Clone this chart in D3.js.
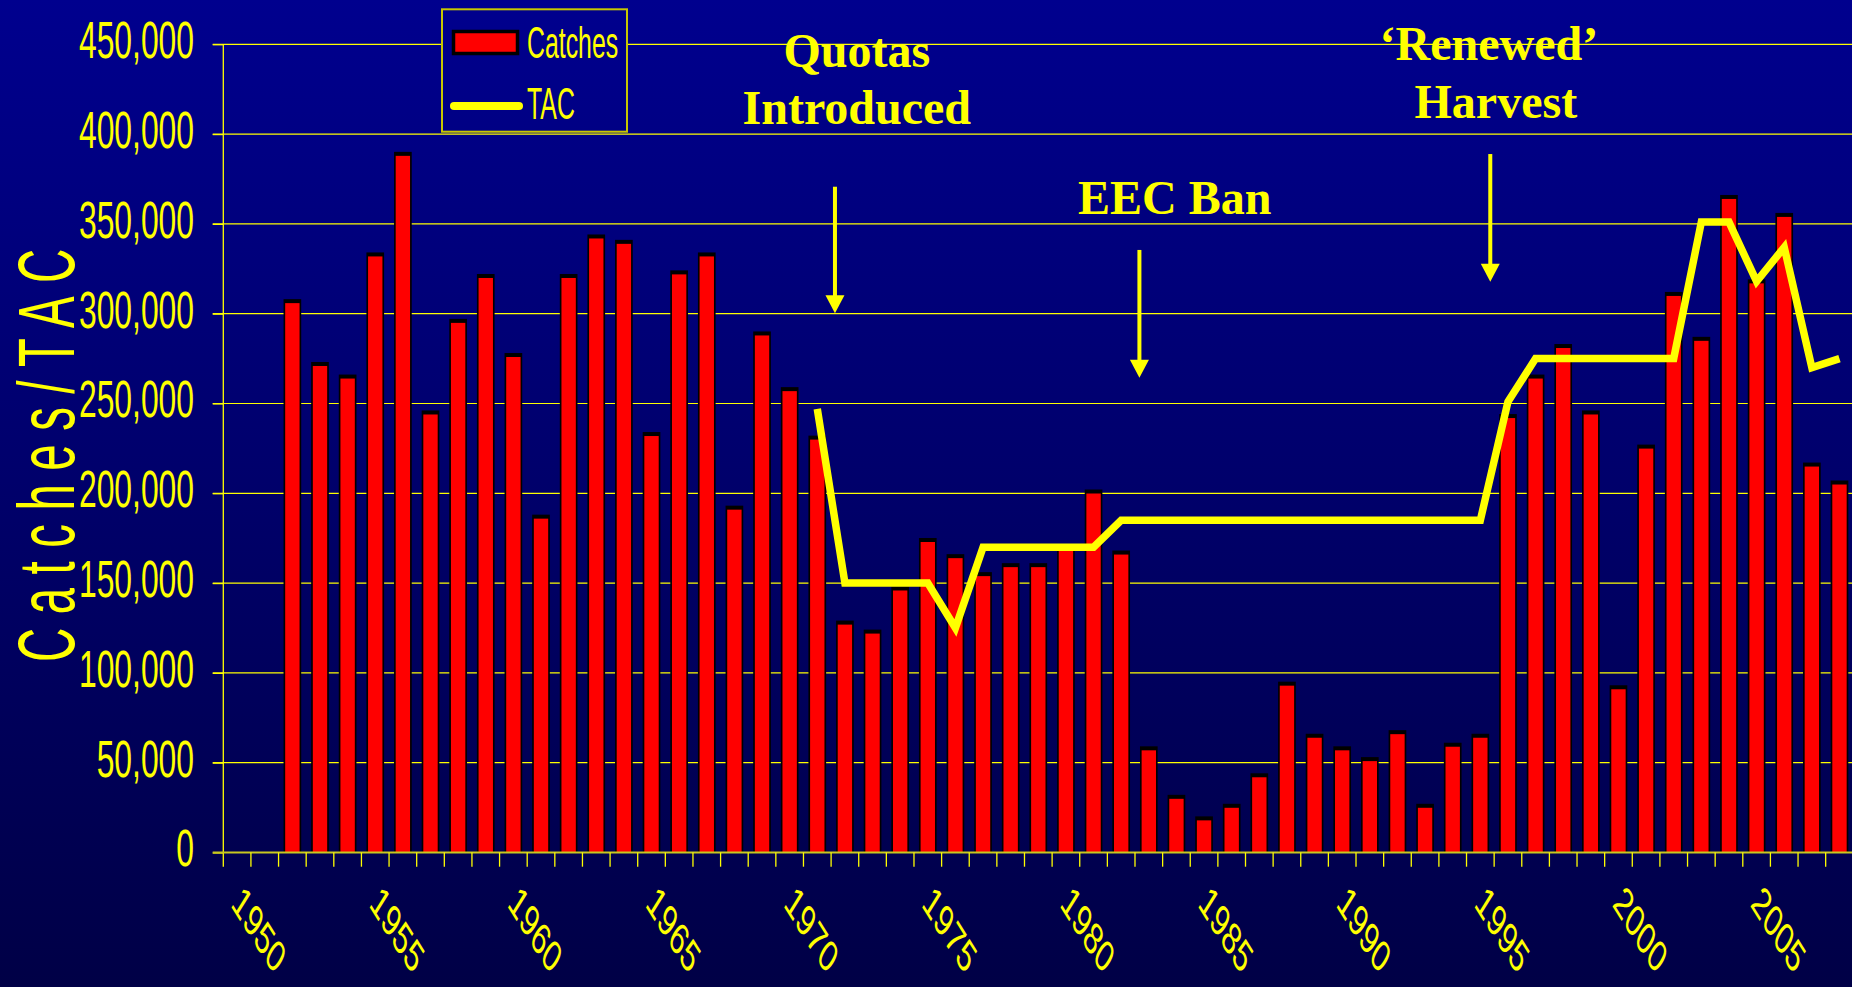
<!DOCTYPE html>
<html><head><meta charset="utf-8">
<script src="https://cdn.jsdelivr.net/npm/d3@7/dist/d3.min.js"></script>
<style>html,body{margin:0;padding:0;background:#000060;overflow:hidden}</style>
</head><body><svg id="c" width="1852" height="987"></svg>
<script>
// ---------- data ----------
const years = [1950,1951,1952,1953,1954,1955,1956,1957,1958,1959,1960,1961,1962,1963,1964,1965,1966,1967,1968,1969,
  1970,1971,1972,1973,1974,1975,1976,1977,1978,1979,1980,1981,1982,1983,1984,1985,1986,1987,1988,1989,
  1990,1991,1992,1993,1994,1995,1996,1997,1998,1999,2000,2001,2002,2003,2004,2005,2006,2007,2008];
const catches = [null,null,307000,272000,265000,333000,389000,245000,296000,321000,277000,187000,321000,343000,340000,233000,323000,333000,192000,289000,
  258000,231000,128000,123000,147000,174000,165000,155000,160000,160000,169000,201000,167000,58000,31000,19000,26000,43000,94000,65000,
  58000,52000,67000,26000,60000,65000,243000,265000,282000,245000,92000,226000,311000,286000,365000,318000,355000,216000,206000];
const tac = [null,null,null,null,null,null,null,null,null,null,null,null,null,null,null,null,null,null,null,null,
  null,247000,150000,150000,150000,150000,125000,170000,170000,170000,170000,170000,185000,185000,185000,185000,185000,185000,185000,185000,
  185000,185000,185000,185000,185000,185000,251000,275000,275000,275000,275000,275000,275000,351000,351000,318000,337000,270000,275000];
const yTicks = [0,50000,100000,150000,200000,250000,300000,350000,400000,450000];
const xLabelYears = [1950,1955,1960,1965,1970,1975,1980,1985,1990,1995,2000,2005];
const seriesNames = ["Catches","TAC"];
const axisTitle = "Catches/TAC";
// annotations: text lines + anchor in data units (year, value)
const notes = [
  {lines:["Quotas","Introduced"], yr:[1972.43,1972.43], val:[437500,405600], arrowYr:1971.64, from:370700, to:300200},
  {lines:["EEC Ban"], yr:[1983.94], val:[355500], arrowYr:1982.66, from:335500, to:264400},
  {lines:["\u2018Renewed\u2019","Harvest"], yr:[1995.31,1995.56], val:[441200,408900], arrowYr:1995.36, from:388900, to:317800}
];

// ---------- setup ----------
const W = 1852, H = 987;
const svg = d3.select("#c");
const YEL = "#ffff00";
const defs = svg.append("defs");
const g = defs.append("linearGradient").attr("id","bg").attr("gradientUnits","userSpaceOnUse")
  .attr("x1",0).attr("y1",0).attr("x2",0).attr("y2",H);
g.append("stop").attr("offset","0").attr("stop-color","#00008e");
g.append("stop").attr("offset","1").attr("stop-color","#000046");
svg.append("rect").attr("width",W).attr("height",H).attr("fill","url(#bg)");

const left = 223.3, right = 1853.3, y0 = 852.5, yTop = 44.3;
const x = d3.scaleBand().domain(years).range([left,right]).paddingInner(0).paddingOuter(0);
const xl = d3.scaleLinear().domain([years[0]-0.5, years[years.length-1]+0.5]).range([left,right]);
const y = d3.scaleLinear().domain([0,450000]).range([y0,yTop]);
const bw = x.bandwidth();

// gridlines
svg.append("g").selectAll("line").data(yTicks.filter(d=>d>0)).join("line")
  .attr("x1",212.7).attr("x2",W).attr("y1",d=>y(d)).attr("y2",d=>y(d))
  .attr("stroke",YEL).attr("stroke-width",1.2);

// y axis (ticks + labels)
const yAxis = svg.append("g").attr("transform",`translate(${left},0)`)
  .call(d3.axisLeft(y).tickValues(yTicks).tickSize(10.6).tickFormat(d3.format(",")));
yAxis.select(".domain").remove();
yAxis.selectAll(".tick line").attr("stroke",YEL).attr("stroke-width",1.2);
yAxis.selectAll(".tick text")
  .attr("x",0).attr("dy",null).attr("y",0)
  .attr("transform","translate(-29.3,13.3) scale(0.624,1)")
  .attr("text-anchor","end")
  .attr("fill",YEL).attr("font-family","'Liberation Sans', Arial, sans-serif").attr("font-size",51);

// bars
const bars = svg.append("g");
const data = years.map((yr,i)=>({yr, c:catches[i], t:tac[i]}));
const outerW = bw*0.64, innerW = bw*0.52;
bars.selectAll("rect.o").data(data.filter(d=>d.c!=null)).join("rect").attr("class","o")
  .attr("x",d=>x(d.yr)+bw/2-outerW/2).attr("width",outerW)
  .attr("y",d=>y(d.c)-2).attr("height",d=>y0-y(d.c)+2).attr("fill","#000");
bars.selectAll("rect.i").data(data.filter(d=>d.c!=null)).join("rect").attr("class","i")
  .attr("x",d=>x(d.yr)+bw/2-innerW/2).attr("width",innerW)
  .attr("y",d=>y(d.c)+2).attr("height",d=>Math.max(0,y0-y(d.c)-2)).attr("fill","#ff0000");

// y axis line
svg.append("line").attr("x1",left).attr("x2",left).attr("y1",yTop).attr("y2",866.7)
  .attr("stroke",YEL).attr("stroke-width",1.3);
// x axis line + ticks
svg.append("line").attr("x1",212.7).attr("x2",W).attr("y1",y0).attr("y2",y0)
  .attr("stroke","#c8c820").attr("stroke-width",2);
svg.append("g").selectAll("line").data(years.slice(1)).join("line")
  .attr("x1",d=>x(d)).attr("x2",d=>x(d)).attr("y1",y0).attr("y2",866.7)
  .attr("stroke",YEL).attr("stroke-width",1.3);

// x labels
svg.append("g").selectAll("text").data(xLabelYears).join("text")
  .attr("transform",d=>`translate(${x(d)+bw/2-7},905) scale(0.625,1) rotate(45)`)
  .attr("fill",YEL).attr("font-family","'Liberation Sans', Arial, sans-serif").attr("font-size",45)
  .text(d=>d);

// TAC line
const line = d3.line().defined(d=>d.t!=null).x(d=>x(d.yr)+bw/2).y(d=>y(d.t));
svg.append("path").datum(data).attr("d",line).attr("fill","none")
  .attr("stroke",YEL).attr("stroke-width",7.5).attr("stroke-linejoin","miter").attr("stroke-miterlimit",6);

// title
svg.append("text").attr("transform","translate(74,662) rotate(-90) scale(0.6,1)")
  .attr("fill",YEL).attr("font-family","'Liberation Sans', Arial, sans-serif").attr("font-size",79)
  .attr("letter-spacing",22.5).text(axisTitle);

// legend
const lg = svg.append("g");
lg.append("rect").attr("x",442).attr("y",9.3).attr("width",185).attr("height",122.4)
  .attr("fill","url(#bg)").attr("stroke","#c8c800").attr("stroke-width",2);
lg.append("rect").attr("x",453.5).attr("y",31.5).attr("width",64).attr("height",22)
  .attr("fill","#ff0000").attr("stroke","#000").attr("stroke-width",3.5);
lg.append("line").attr("x1",454).attr("x2",519).attr("y1",106).attr("y2",106)
  .attr("stroke",YEL).attr("stroke-width",8).attr("stroke-linecap","round");
lg.selectAll("text").data(seriesNames).join("text")
  .attr("transform",(d,i)=>`translate(527,${i?119:58.3}) scale(0.565,1)`)
  .attr("fill",YEL).attr("font-family","'Liberation Sans', Arial, sans-serif").attr("font-size",44)
  .text(d=>d);

// annotations
const ann = svg.append("g");
notes.forEach(n=>{
  n.lines.forEach((t,i)=>{
    ann.append("text").attr("x",xl(n.yr[i])).attr("y",y(n.val[i])).attr("text-anchor","middle")
      .attr("fill",YEL).attr("font-family","'Liberation Serif','Times New Roman',serif")
      .attr("font-weight","bold").attr("font-size",48).text(t);
  });
  const ax = xl(n.arrowYr), ya = y(n.from), yb = y(n.to);
  ann.append("line").attr("x1",ax).attr("x2",ax).attr("y1",ya).attr("y2",yb-15)
    .attr("stroke",YEL).attr("stroke-width",4);
  ann.append("path").attr("d",`M${ax-9.5},${yb-18}L${ax+9.5},${yb-18}L${ax},${yb}Z`).attr("fill",YEL);
});
</script></body></html>
